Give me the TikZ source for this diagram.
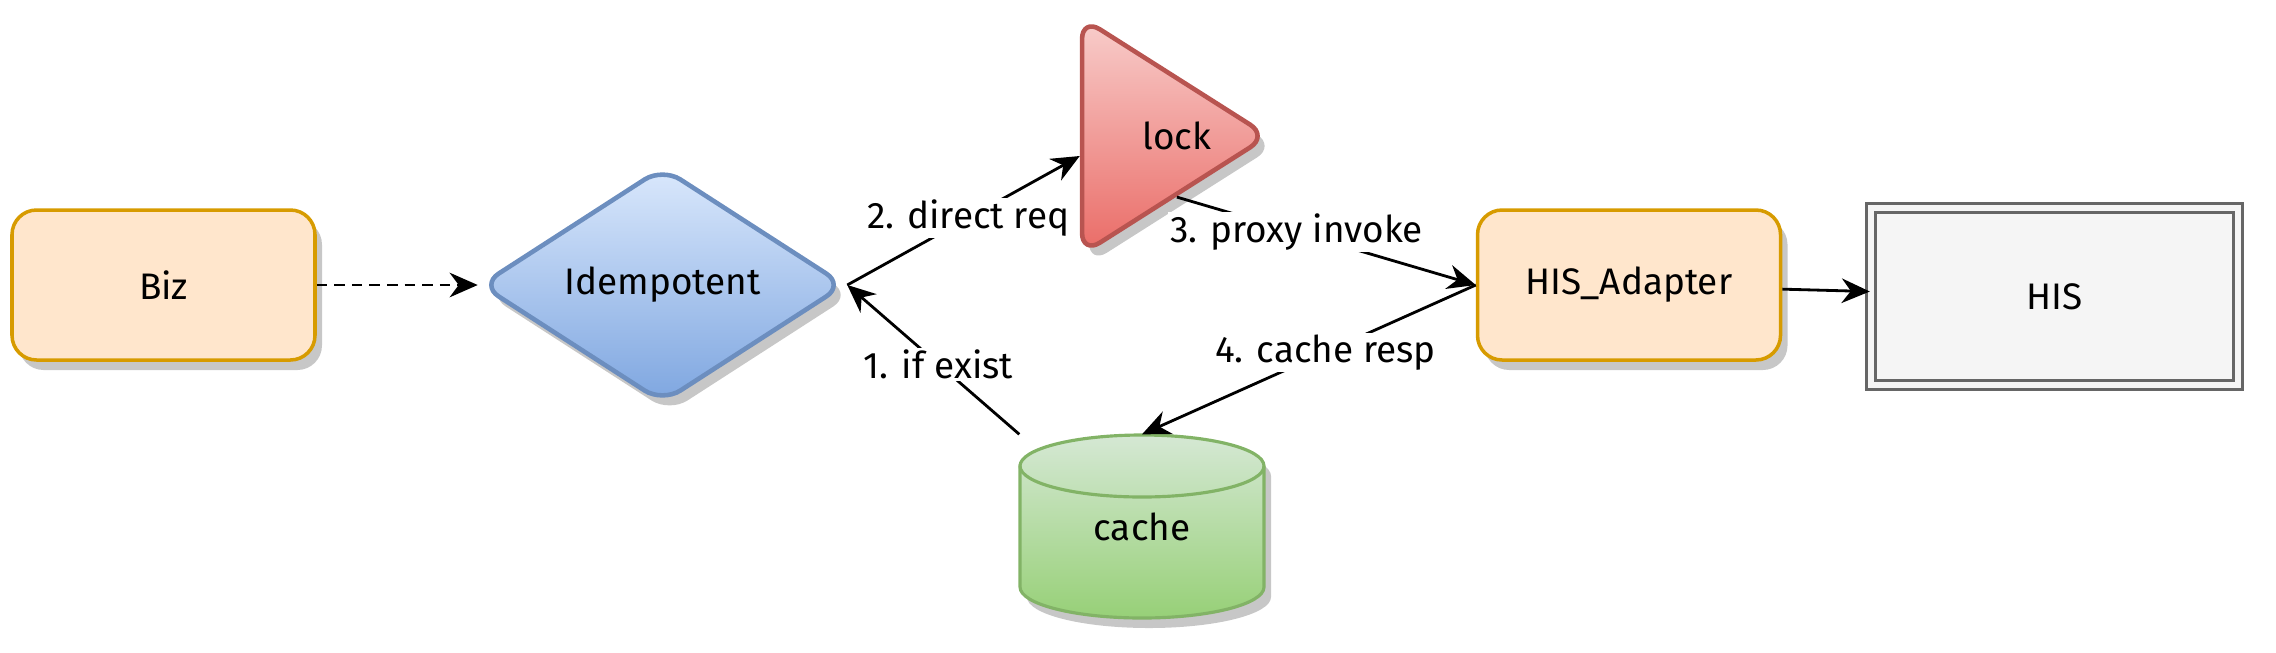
\documentclass[tikz,border=0pt]{standalone}
\usepackage{fontspec}
\setmainfont{Fira Sans}
\usetikzlibrary{shapes.geometric, arrows.meta, shadows, positioning}

\definecolor{orfill}{HTML}{FFE6CC}
\definecolor{ordraw}{HTML}{D79B00}
\definecolor{bltop}{HTML}{DAE8FC}
\definecolor{blbot}{HTML}{7EA6E0}
\definecolor{bldraw}{HTML}{6C8EBF}
\definecolor{rdtop}{HTML}{F8CECC}
\definecolor{rdbot}{HTML}{EA6B66}
\definecolor{rddraw}{HTML}{B85450}
\definecolor{grtop}{HTML}{D5E8D4}
\definecolor{grbot}{HTML}{97D077}
\definecolor{grdraw}{HTML}{82B366}
\definecolor{hisfill}{HTML}{F5F5F5}
\definecolor{hisdraw}{HTML}{666666}

\tikzset{
  shadowed/.style={drop shadow={shadow xshift=0.07cm, shadow yshift=-0.1cm, fill=black!22, opacity=1}},
  box/.style={rectangle, rounded corners=7pt, draw=ordraw, fill=orfill, line width=1pt,
              minimum width=3.03cm, minimum height=1.5cm, shadowed},
  decision/.style={diamond, aspect=1.55, inner sep=0pt, rounded corners=6pt, draw=bldraw,
              top color=bltop, bottom color=blbot, line width=1.3pt,
              minimum width=3.65cm, minimum height=2.36cm, shadowed},
  locker/.style={isosceles triangle, isosceles triangle stretches, inner sep=0pt,
              rounded corners=6pt, draw=rddraw, top color=rdtop, bottom color=rdbot, line width=1.3pt,
              minimum width=2.36cm, minimum height=1.86cm, shadowed},
  drum/.style={draw=grdraw, line width=0.9pt, top color=grtop, bottom color=grbot, shadowed},
  store/.style={rectangle, minimum width=2.44cm, minimum height=1.83cm, text depth=-6pt},
  ext/.style={rectangle, draw=hisdraw, double=hisfill, double distance=1.8pt, line width=0.7pt,
              fill=hisfill, minimum width=3.67cm, minimum height=1.77cm},
  link/.style={-{Stealth[length=8pt, width=7pt]}, line width=0.8pt},
  lbl/.style={fill=white, inner sep=0.5pt},
}

\begin{document}
\begin{tikzpicture}[font=\fontsize{10.5}{12.5}\selectfont]
\useasboundingbox (0, 0) rectangle (22.76, -6.52);
        % cache drum
\path[drum] (10.20, -4.66) -- (10.20, -5.87) arc (180:360:1.22 and 0.31)
            -- (12.64, -4.66) arc (0:180:1.22 and 0.31) -- cycle;
\draw[grdraw, line width=0.9pt] (10.20, -4.66) arc (180:360:1.22 and 0.31);

        % Draw the nodes
        \node[box] at (1.635, -2.85)          (biz)     {Biz};
        \node[decision] at (6.625, -2.85)     (idem)    {Idempotent};
        \node[locker, anchor=apex, label={[xshift=3mm]center:lock}] at (12.74, -1.36) (lock) {};
        \node[box] at (16.29, -2.85)          (adapter) {HIS\_Adapter};
        \node[ext] at (20.545, -2.965)        (his)     {HIS};
        \node[store] at (11.42, -5.265)       (cache)   {cache};

        % Connect the nodes
\draw  (biz) edge[link, dash pattern=on 3pt off 2pt] (idem);
\draw  (cache.north west) edge[link] node[lbl, pos=0.47] {1. if exist} (idem.east);
\draw  (idem.east) edge[link] node[lbl, pos=0.52] {2. direct req} ([yshift=-2mm]lock.lower side);
\draw  (lock.right side) edge[link] node[lbl, pos=0.4] {3. proxy invoke} (adapter.west);
\draw  (adapter.west) edge[link] node[lbl, pos=0.45] {4. cache resp} (cache.north);
\draw  (adapter) edge[link] (his);
\end{tikzpicture}
\end{document}
